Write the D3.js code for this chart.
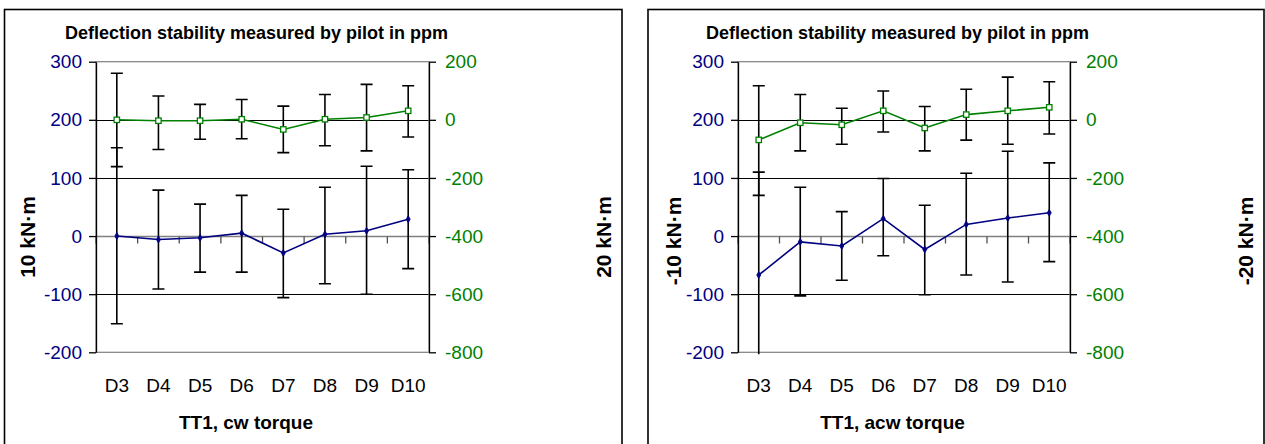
<!DOCTYPE html>
<html>
<head>
<meta charset="utf-8">
<script src="https://cdn.jsdelivr.net/npm/d3@7"></script>
<style>
  html, body { margin: 0; padding: 0; background: #fff; }
  svg { display: block; font-family: "Liberation Sans", Arial, sans-serif; }
</style>
</head>
<body>
<svg id="chart" width="1265" height="444"></svg>
<script>
// ---------- data ----------
const categories = ["D3", "D4", "D5", "D6", "D7", "D8", "D9", "D10"];
const leftTicks = [-200, -100, 0, 100, 200, 300];
const rightTicks = [-800, -600, -400, -200, 0, 200];

// cw torque (blue = left axis, green = right axis); hi/lo = error bar ends
const cwBlue   = [0, -6, -3, 5, -29, 3, 9, 29];
const cwBlueHi = [152, 79, 55, 70, 46, 84, 120, 114];
const cwBlueLo = [-151, -91, -62, -62, -106, -82, -100, -56];
const cwGreen   = [0, -3, -3, 2, -33, 2, 8, 31];
const cwGreenHi = [160, 82, 53, 70, 47, 87, 122, 117];
const cwGreenLo = [-161, -102, -67, -65, -113, -89, -107, -59];

// acw torque
const acwBlue   = [-67, -10, -17, 30, -23, 20, 31, 40];
const acwBlueHi = [110, 84, 42, 99, 53, 108, 146, 126];
const acwBlueLo = [-244, -103, -76, -34, -101, -67, -79, -44];
const acwGreen   = [-69, -10, -17, 31, -28, 18, 31, 43];
const acwGreenHi = [117, 87, 40, 99, 46, 105, 147, 131];
const acwGreenLo = [-260, -107, -84, -42, -107, -70, -84, -49];

const chartTitle = "Deflection stability measured by pilot in ppm";

// ---------- layout ----------
const panels = [
  { box: [4.5, 9.5, 617.5, 445], l: 96, r: 429, t: 61.7, b: 352.3,
    titleX: 256.5, xTitle: "TT1, cw torque", xTitleX: 246,
    yLeft: "10 kN·m", yLeftX: 35, yLeftY: 237,
    yRight: "20 kN·m", yRightX: 610.5, yRightY: 237,
    blue: cwBlue, blueHi: cwBlueHi, blueLo: cwBlueLo,
    green: cwGreen, greenHi: cwGreenHi, greenLo: cwGreenLo },
  { box: [648, 9.5, 616, 445], l: 738, r: 1070, t: 61.7, b: 352.3,
    titleX: 897.5, xTitle: "TT1, acw torque", xTitleX: 892.5,
    yLeft: "-10 kN·m", yLeftX: 680.5, yLeftY: 241,
    yRight: "-20 kN·m", yRightX: 1253, yRightY: 241,
    blue: acwBlue, blueHi: acwBlueHi, blueLo: acwBlueLo,
    green: acwGreen, greenHi: acwGreenHi, greenLo: acwGreenLo }
];

const BLUE = "#000080", GREEN = "#008000", GRID = "#000", BORDER = "#808080";
const FONT = '"Liberation Sans", Arial, sans-serif';
const svg = d3.select("#chart");
const defs = svg.append("defs");

panels.forEach((p, pi) => {
  const g = svg.append("g");
  g.append("rect").attr("x", p.box[0]).attr("y", p.box[1])
    .attr("width", p.box[2]).attr("height", p.box[3])
    .attr("fill", "#fff").attr("stroke", "#000").attr("stroke-width", 1.6);

  const x = d3.scaleBand().domain(categories).range([p.l, p.r]).padding(0);
  const yL = d3.scaleLinear().domain([-200, 300]).range([p.b, p.t]);
  const yR = d3.scaleLinear().domain([-800, 200]).range([p.b, p.t]);
  const cx = c => x(c) + x.bandwidth() / 2;

  // gridlines
  g.append("g").selectAll("line")
    .data(leftTicks.filter(v => v !== 0 && v !== -200 && v !== 300))
    .join("line")
    .attr("x1", p.l).attr("x2", p.r)
    .attr("y1", d => Math.round(yL(d)) + 0.5).attr("y2", d => Math.round(yL(d)) + 0.5)
    .attr("stroke", GRID).attr("stroke-width", 1);

  // plot area border
  g.append("rect").attr("x", p.l).attr("y", p.t).attr("width", p.r - p.l).attr("height", p.b - p.t)
    .attr("fill", "none").attr("stroke", BORDER).attr("stroke-width", 1.2);

  // category axis at zero with tick marks between categories
  const y0 = Math.round(yL(0)) + 0.5;
  g.append("line").attr("x1", p.l).attr("x2", p.r).attr("y1", y0).attr("y2", y0)
    .attr("stroke", BORDER).attr("stroke-width", 1.3);
  const bounds = categories.map(c => x(c)).concat([x(categories[categories.length - 1]) + x.bandwidth()]);
  g.append("g").selectAll("line").data(bounds).join("line")
    .attr("x1", d => d).attr("x2", d => d).attr("y1", y0).attr("y2", y0 + 7)
    .attr("stroke", "#505050").attr("stroke-width", 1.3);

  // value axes
  const fmt = d => String(d);
  const ax = g.append("g").attr("transform", `translate(${p.l},0)`)
    .call(d3.axisLeft(yL).tickValues(leftTicks).tickSize(7).tickSizeOuter(0).tickPadding(7).tickFormat(fmt));
  ax.select(".domain").attr("stroke", "#000").attr("stroke-width", 1.3);
  ax.selectAll(".tick line").attr("stroke", "#000").attr("stroke-width", 1.3);
  ax.selectAll(".tick text").attr("fill", BLUE).style("font-size", "19px").style("font-family", FONT);

  const ar = g.append("g").attr("transform", `translate(${p.r},0)`)
    .call(d3.axisRight(yR).tickValues(rightTicks).tickSize(7).tickSizeOuter(0).tickPadding(9).tickFormat(fmt));
  ar.select(".domain").attr("stroke", "#000").attr("stroke-width", 1.3);
  ar.selectAll(".tick line").attr("stroke", "#000").attr("stroke-width", 1.3);
  ar.selectAll(".tick text").attr("fill", GREEN).style("font-size", "19px").style("font-family", FONT);

  // category labels
  const ab = g.append("g").attr("transform", `translate(0,${p.b})`)
    .call(d3.axisBottom(x).tickSize(0).tickPadding(26));
  ab.select(".domain").remove();
  ab.selectAll(".tick text").attr("fill", "#000").style("font-size", "19px").style("font-family", FONT);

  // clip
  const clipId = "clip" + pi;
  defs.append("clipPath").attr("id", clipId).append("rect")
    .attr("x", p.l - 10).attr("y", p.t).attr("width", p.r - p.l + 20).attr("height", p.b - p.t + 2);
  const plot = g.append("g").attr("clip-path", `url(#${clipId})`);

  // error bars
  function errBars(hi, lo, scale) {
    const eg = plot.append("g").attr("stroke", "#000").attr("stroke-width", 1.6).attr("fill", "none");
    categories.forEach((c, i) => {
      const xx = cx(c);
      eg.append("line").attr("x1", xx).attr("x2", xx).attr("y1", scale(hi[i])).attr("y2", scale(lo[i]));
      [hi[i], lo[i]].forEach(v => {
        eg.append("line").attr("x1", xx - 6).attr("x2", xx + 6).attr("y1", scale(v)).attr("y2", scale(v));
      });
    });
  }
  errBars(p.blueHi, p.blueLo, yL);
  errBars(p.greenHi, p.greenLo, yR);

  // lines
  const lineB = d3.line().x((d, i) => cx(categories[i])).y(d => yL(d));
  const lineG = d3.line().x((d, i) => cx(categories[i])).y(d => yR(d));
  plot.append("path").attr("d", lineB(p.blue)).attr("fill", "none").attr("stroke", BLUE).attr("stroke-width", 1.6);
  plot.append("path").attr("d", lineG(p.green)).attr("fill", "none").attr("stroke", GREEN).attr("stroke-width", 1.6);

  // markers
  plot.append("g").selectAll("path").data(p.blue).join("path")
    .attr("d", d3.symbol(d3.symbolDiamond, 14))
    .attr("transform", (d, i) => `translate(${cx(categories[i])},${yL(d)})`)
    .attr("fill", BLUE).attr("stroke", BLUE).attr("stroke-width", 0.8);
  plot.append("g").selectAll("rect").data(p.green).join("rect")
    .attr("x", (d, i) => cx(categories[i]) - 2.7).attr("y", d => yR(d) - 2.7)
    .attr("width", 5.4).attr("height", 5.4)
    .attr("fill", "#fff").attr("stroke", GREEN).attr("stroke-width", 1.3);

  // titles
  const bold = (sel, size) => sel.attr("font-weight", "bold").attr("fill", "#000").style("font-size", size + "px");
  g.append("text").attr("x", p.titleX).attr("y", 38.5).attr("text-anchor", "middle").text(chartTitle).call(bold, 18);
  g.append("text").attr("x", p.xTitleX).attr("y", 429).attr("text-anchor", "middle").text(p.xTitle).call(bold, 19);
  g.append("text").attr("transform", `translate(${p.yLeftX},${p.yLeftY}) rotate(-90)`)
    .attr("text-anchor", "middle").text(p.yLeft).call(bold, 21);
  g.append("text").attr("transform", `translate(${p.yRightX},${p.yRightY}) rotate(-90)`)
    .attr("text-anchor", "middle").text(p.yRight).call(bold, 21);
});
</script>
</body>
</html>
